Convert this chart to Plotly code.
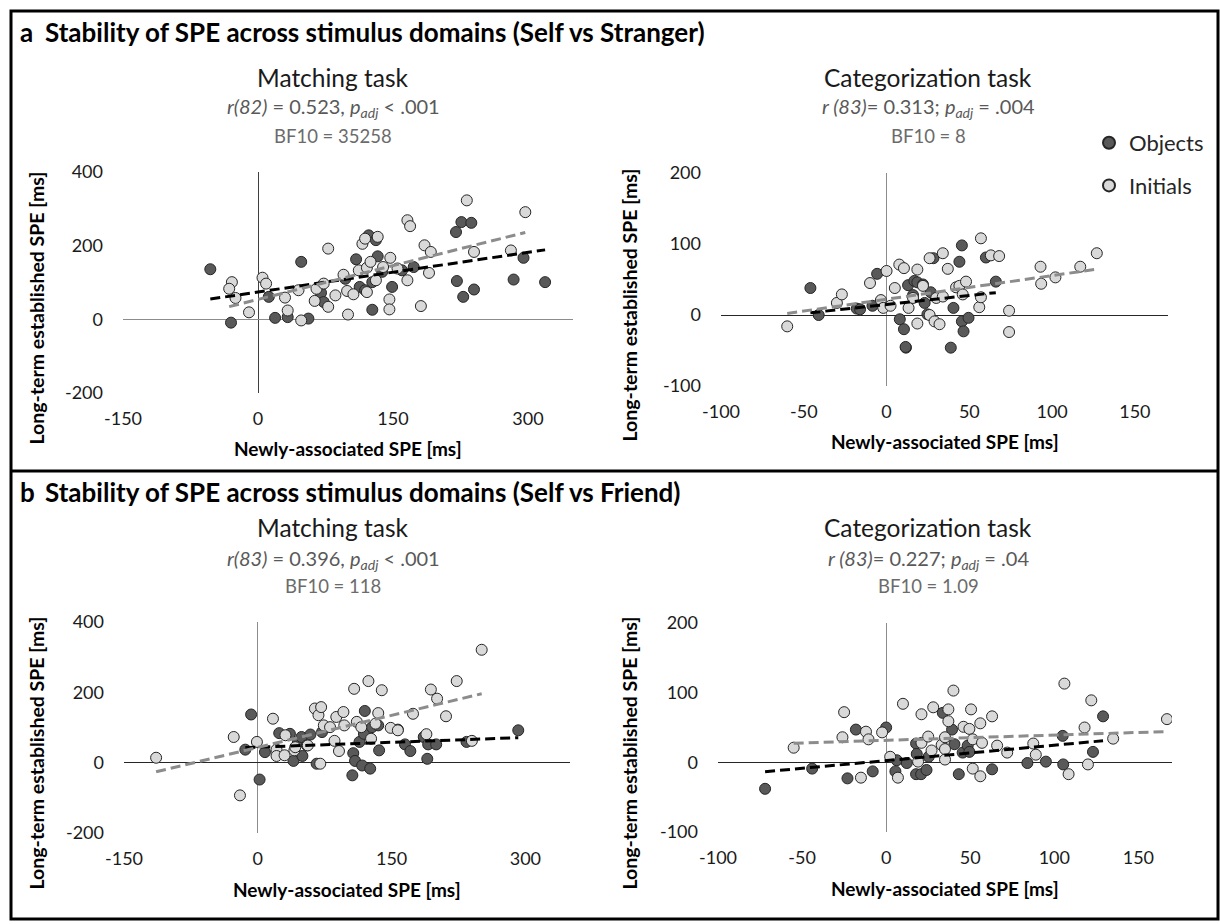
import plotly.graph_objects as go

W, H = 1220, 924
FONT = "Lato, 'Open Sans', sans-serif"

# ---------------- DATA ----------------
# a) Self vs Stranger, Matching task
a_match_obj_x = [-53, -30, 12, 19, 33, 48, 56, 70, 73, 109, 113, 97, 123, 131, 133, 127, 138, 149, 160, 173,
                 220, 221, 226, 228, 237, 240, 284, 295, 319, 119, 127]
a_match_obj_y = [136, -9, 61, 4, 6, 156, 2, 72, 47, 163, 88, 110, 228, 215, 171, 26, 129, 88, 133, 142,
                 237, 104, 264, 61, 262, 81, 108, 167, 101, 79, 101]
a_match_ini_x = [-29, -32, -25, -10, 5, 9, 30, 33, 45, 48, 63, 65, 73, 78, 78, 86, 95, 100, 99, 106, 112,
                 116, 119, 121, 121, 125, 131, 133, 139, 146, 146, 147, 155, 166, 169, 166, 181, 185, 190,
                 192, 232, 240, 281, 297]
a_match_ini_y = [101, 83, 58, 19, 113, 97, 59, 24, 79, -3, 50, 83, 97, 192, 34, 65, 121, 13, 77, 68, 133,
                 205, 219, 140, 74, 156, 106, 224, 142, 54, 27, 167, 138, 269, 253, 106, 36, 201, 126,
                 183, 323, 183, 187, 291]

# a) Self vs Stranger, Categorization task
a_cat_obj_x = [-46, -41, -18, -16, -8.5, -5.7, 8, 10.5, 11.7, 11.5, 13, 16.8, 18.6, 22, 23, 24.7, 26.7, 28.3,
               38.8, 40.4, 44, 45.5, 45.5, 46.5, 49.5, 60, 66, 16]
a_cat_obj_y = [38, 0, 9, 8, 13, 58, -6, -20, -46, -45, 42, 48, 46, 43, 17, 1, 32, 80, -46, 10, 75, 98, -9,
               -23, -4, 81, 47, 28]
a_cat_ini_x = [-60, -30, -27, -10, -3.4, -2, 0, 2.4, 5, 7.7, 10.5, 13.3, 16, 18.6, 18.6, 22, 26, 26, 29, 30,
               32, 34, 34, 37, 42, 44, 46, 48, 56, 57, 57, 63, 68, 74, 74, 93, 93.4, 102, 117, 127]
a_cat_ini_y = [-16, 17, 29, 45, 21, 10, 62, 13, 38, 71, 66, 10, 24, 64, -12, 41, 80, 0, -9, 24, -13, 26,
               87, 65, 39, 41, 29, 47, 11, 25, 108, 84, 83, 6, -24, 68, 44, 53, 68, 87]

# b) Self vs Friend, Matching task
b_match_obj_x = [-7.5, -14, 2, 8, 24, 36, 40, 45, 49, 50, 55, 59, 66, 72, 106, 107, 109, 114, 117, 120, 119,
                 126, 128, 136, 165, 171, 186, 190, 191, 200, 234, 292, 157, 135]
b_match_obj_y = [137, 37, -48, 30, 84, 82, 5, 59, 73, 19, 49, 80, -3, 87, -36, 27, 5, 59, -8, 147, 82,
                 -17, 101, 35, 52, 33, 73, 11, 52, 52, 59, 92, 94, 106]
b_match_ini_x = [-114, -27, -20, -1, 17, 21, 21, 30, 31, 41, 42, 56, 64, 68, 71, 70, 74, 81, 86, 88, 91, 96,
                 97, 108, 111, 116, 124, 127, 132, 135, 139, 149, 157, 174, 189, 194, 201, 211, 223, 240, 251]
b_match_ini_y = [14, 73, -93, 59, 125, 37, 19, 21, 78, 35, 44, 49, 154, 135, 158, -3, 106, 101, 62, 130, 33,
                 144, 106, 210, 116, 101, 232, 68, 111, 141, 206, 99, 92, 139, 81, 208, 182, 132, 232, 62, 321]

# b) Self vs Friend, Categorization task
b_cat_obj_x = [-72, -44, -23, -18, -8, 0, 6.3, 5.5, 12.3, 17.8, 18.2, 17.8, 20.8, 24, 25.3, 33.7, 39.2, 40.6,
               43.2, 45.5, 48.5, 49.5, 63, 84, 95, 105, 105.3, 123, 129]
b_cat_obj_y = [-38, -9, -23, 47, -13, 50, 3, -13, -1, 27, 12, -17, -17, -11, 8, 71, 47, 26, -17, 14, 24, 15,
               -10, -1, 1, 38, -3, 15, 66]
b_cat_ini_x = [-55, -26, -25, -15, -12, -10.5, -2.4, 2.4, 7, 10, 19, 21, 21, 25, 27, 28, 33, 35, 35, 35, 37,
               37, 40, 46, 49.5, 50.5, 51.5, 51.5, 56, 56, 57, 63, 66, 72, 87.5, 89, 106, 108.5, 118, 120,
               122, 135, 167]
b_cat_ini_y = [21, 36, 72, -22, 44, 33, 43, 8, -22, 84, 1, 28, 69, 37, 17, 79, 25, 36, 19, 4, 76, 59, 103,
               51, 48, 76, 33, -9, 56, -20, 28, 66, 24, 14, 27, 11, 113, -17, 50, -3, 89, 34, 62]

# linear trendlines: [slope, intercept] for Objects / Initials
trend_a_match = {"obj": [0.359, 74.1], "ini": [0.612, 54.1]}
trend_a_cat = {"obj": [0.253, 14.8], "ini": [0.333, 22.2]}
trend_b_match = {"obj": [0.092, 44.1], "ini": [0.608, 43.4]}
trend_b_cat = {"obj": [0.221, 2.45], "ini": [0.0754, 31.6]}

# tick labels
ticks_match_x = [-150, 0, 150, 300]
ticks_match_y = [-200, 0, 200, 400]
ticks_cat_x = [-100, -50, 0, 50, 100, 150]
ticks_cat_y = [-100, 0, 100, 200]

panel_titles = ["Stability of SPE across stimulus domains (Self vs Stranger)",
                "Stability of SPE across stimulus domains (Self vs Friend)"]
task_titles = ["Matching task", "Categorization task", "Matching task", "Categorization task"]
stat_texts = ["<i>r(82)</i> = 0.523, <i>p<sub>adj</sub></i> &lt; .001",
              "<i>r (83)</i>= 0.313; <i>p<sub>adj</sub></i> = .004",
              "<i>r(83)</i> = 0.396, <i>p<sub>adj</sub></i> &lt; .001",
              "<i>r (83)</i>= 0.227; <i>p<sub>adj</sub></i> = .04"]
bf_texts = ["BF10 = 35258", "BF10 = 8", "BF10 = 118", "BF10 = 1.09"]
xlabel = "Newly-associated SPE [ms]"
ylabel = "Long-term established SPE [ms]"

# ---------------- STYLE / LAYOUT ----------------
OBJ_FILL = "#595959"
INI_FILL = "#d9d9d9"
EDGE = "#262626"
OBJ_LINE = "#000000"
INI_LINE = "#8c8c8c"


def px(x):
    return x / W


def py(y):
    return 1 - y / H


panels = [
    dict(ox=a_match_obj_x, oy=a_match_obj_y, ix=a_match_ini_x, iy=a_match_ini_y, tr=trend_a_match,
         xr=[-150, 350], yr=[-200, 400], tx=ticks_match_x, ty=ticks_match_y,
         box=(123, 573, 172, 393), vcol="#404040", hcol="#8c8c8c", hdr_x=333, ylab_x=36),
    dict(ox=a_cat_obj_x, oy=a_cat_obj_y, ix=a_cat_ini_x, iy=a_cat_ini_y, tr=trend_a_cat,
         xr=[-100, 170], yr=[-100, 200], tx=ticks_cat_x, ty=ticks_cat_y,
         box=(721, 1168, 173, 386), vcol="#8c8c8c", hcol="#262626", hdr_x=928, ylab_x=629),
    dict(ox=b_match_obj_x, oy=b_match_obj_y, ix=b_match_ini_x, iy=b_match_ini_y, tr=trend_b_match,
         xr=[-150, 350], yr=[-200, 400], tx=ticks_match_x, ty=ticks_match_y,
         box=(124, 570, 622, 833), vcol="#8c8c8c", hcol="#262626", hdr_x=333, ylab_x=36),
    dict(ox=b_cat_obj_x, oy=b_cat_obj_y, ix=b_cat_ini_x, iy=b_cat_ini_y, tr=trend_b_cat,
         xr=[-100, 170], yr=[-100, 200], tx=ticks_cat_x, ty=ticks_cat_y,
         box=(718, 1172, 623, 832), vcol="#8c8c8c", hcol="#262626", hdr_x=928, ylab_x=629),
]
hdr_y = [[77, 107, 136], [77, 107, 136], [527, 559, 586], [527, 559, 586]]

fig = go.Figure()
layout = dict(
    width=W, height=H, margin=dict(l=0, r=0, t=0, b=0),
    paper_bgcolor="white", plot_bgcolor="white",
    font=dict(family=FONT, color="#1a1a1a"),
    showlegend=True,
    legend=dict(x=px(1089), y=py(122), xanchor="left", yanchor="top",
                font=dict(size=22, family=FONT, color="#262626"),
                bgcolor="rgba(0,0,0,0)", itemsizing="constant", tracegroupgap=11),
)
annotations = []
shapes = []

for i, p in enumerate(panels):
    n = "" if i == 0 else str(i + 1)
    xa, ya = "x" + n, "y" + n
    x0, x1, y0, y1 = p["box"]
    layout["xaxis" + n] = dict(
        domain=[px(x0), px(x1)], range=p["xr"], anchor=ya,
        showgrid=False, showline=False, zeroline=True, zerolinecolor=p["vcol"], zerolinewidth=1,
        tickvals=p["tx"], ticktext=[str(v) for v in p["tx"]], ticks="",
        tickfont=dict(size=18, family=FONT, color="#1a1a1a"), ticklabelstandoff=13,
        automargin=False, fixedrange=True)
    layout["yaxis" + n] = dict(
        domain=[py(y1), py(y0)], range=p["yr"], anchor=xa,
        showgrid=False, showline=False, zeroline=True, zerolinecolor=p["hcol"], zerolinewidth=1,
        tickvals=p["ty"], ticktext=[str(v) for v in p["ty"]], ticks="",
        tickfont=dict(size=18, family=FONT, color="#1a1a1a"), ticklabelstandoff=19,
        automargin=False, fixedrange=True)

    show = (i == 1)
    fig.add_trace(go.Scatter(
        x=p["ox"], y=p["oy"], mode="markers", name="Objects", xaxis=xa, yaxis=ya,
        legendgroup="obj", showlegend=show,
        marker=dict(size=11, color=OBJ_FILL, line=dict(color=EDGE, width=1))))
    fig.add_trace(go.Scatter(
        x=p["ix"], y=p["iy"], mode="markers", name="Initials", xaxis=xa, yaxis=ya,
        legendgroup="ini", showlegend=show,
        marker=dict(size=11, color=INI_FILL, line=dict(color=EDGE, width=1))))
    for key, xs, col in (("obj", p["ox"], OBJ_LINE), ("ini", p["ix"], INI_LINE)):
        m, b = p["tr"][key]
        tx = [min(xs), max(xs)]
        fig.add_trace(go.Scatter(
            x=tx, y=[m * v + b for v in tx], mode="lines", xaxis=xa, yaxis=ya, showlegend=False,
            hoverinfo="skip", line=dict(color=col, width=3, dash="10px,5px")))

    cx = (x0 + x1) / 2
    # header texts
    annotations.append(dict(text=task_titles[i], x=px(p["hdr_x"]), y=py(hdr_y[i][0]), xref="paper",
                            yref="paper", showarrow=False, xanchor="center", yanchor="middle",
                            font=dict(size=24.5, family=FONT, color="#1a1a1a")))
    annotations.append(dict(text=stat_texts[i], x=px(p["hdr_x"]), y=py(hdr_y[i][1]), xref="paper",
                            yref="paper", showarrow=False, xanchor="center", yanchor="middle",
                            font=dict(size=20, family=FONT, color="#595959")))
    annotations.append(dict(text=bf_texts[i], x=px(p["hdr_x"]), y=py(hdr_y[i][2]), xref="paper",
                            yref="paper", showarrow=False, xanchor="center", yanchor="middle",
                            font=dict(size=18.5, family=FONT, color="#6b6b6b")))
    # axis titles
    annotations.append(dict(text="<b>" + xlabel + "</b>", x=px(cx), y=py(y1 + 56), xref="paper",
                            yref="paper", showarrow=False, xanchor="center", yanchor="middle",
                            font=dict(size=19, family=FONT, color="#000000")))
    annotations.append(dict(text="<b>" + ylabel + "</b>", x=px(p["ylab_x"]), y=py((y0 + y1) / 2 + 26),
                            xref="paper", yref="paper", showarrow=False, textangle=-90,
                            xanchor="center", yanchor="middle",
                            font=dict(size=19.5, family=FONT, color="#000000")))

# panel letters and titles
for k, (ty, letter) in enumerate(((32, "a"), (492, "b"))):
    annotations.append(dict(text="<b>" + letter + "</b>", x=px(18), y=py(ty), xref="paper", yref="paper",
                            showarrow=False, xanchor="left", yanchor="middle",
                            font=dict(size=26, family=FONT, color="#000000")))
    annotations.append(dict(text="<b>" + panel_titles[k] + "</b>", x=px(43), y=py(ty), xref="paper",
                            yref="paper", showarrow=False, xanchor="left", yanchor="middle",
                            font=dict(size=26, family=FONT, color="#000000")))

# frame
shapes.append(dict(type="rect", xref="paper", yref="paper", x0=px(11), x1=px(1218), y0=py(919), y1=py(11),
                   line=dict(color="black", width=3), fillcolor="rgba(0,0,0,0)"))
shapes.append(dict(type="line", xref="paper", yref="paper", x0=px(11), x1=px(1218), y0=py(471), y1=py(471),
                   line=dict(color="black", width=3)))

layout["annotations"] = annotations
layout["shapes"] = shapes
fig.update_layout(**layout)
fig.write_html("out.html")
